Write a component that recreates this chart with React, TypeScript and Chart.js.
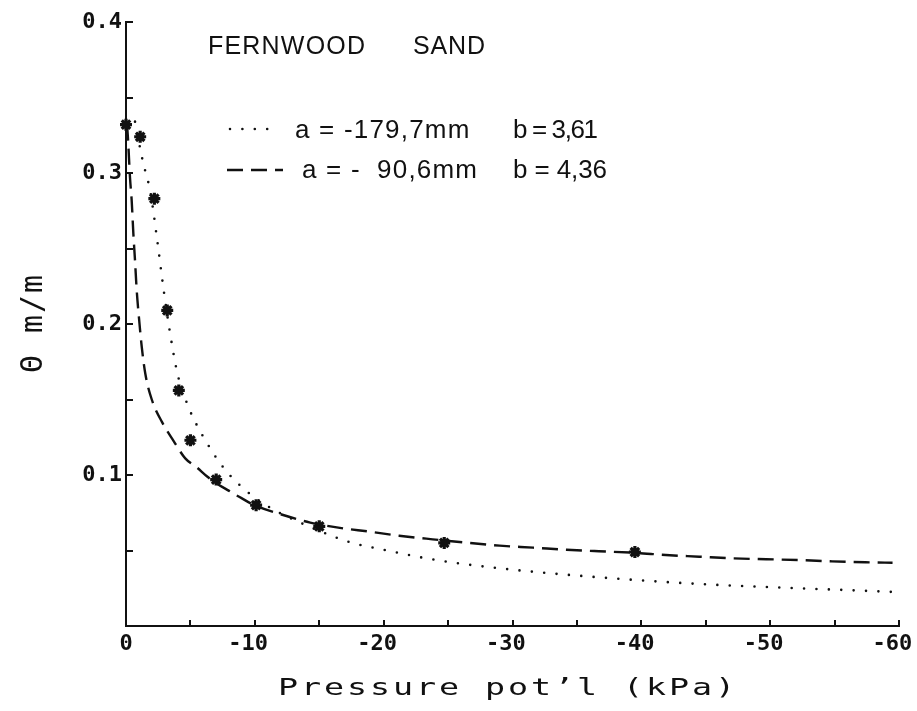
import React, { useEffect, useRef } from 'react';
import { Chart, registerables } from 'chart.js';

Chart.register(...registerables);

// Measured water content against pressure potential
const measuredPressure = [0, -1.1, -2.2, -3.2, -4.1, -5.0, -7.0, -10.1, -15.0, -24.7, -39.5];
const measuredTheta = [0.332, 0.324, 0.283, 0.209, 0.156, 0.123, 0.097, 0.080, 0.066, 0.055, 0.049];

// Fitted curve, a = -179,7 mm, b = 3,61 (dotted)
const fitAPressure = [-0.7, -1.3, -1.9, -2.4, -2.9, -3.4, -4.0, -4.8, -5.5, -6.3, -7.2, -8.1, -9.0, -10.0, -11.5, -13.0, -15.0, -17.5, -20.0, -23.0, -26.0, -30.0, -35.0, -40.0, -45.0, -50.0, -55.0, -59.4];
const fitATheta = [0.334, 0.308, 0.287, 0.257, 0.224, 0.195, 0.167, 0.146, 0.133, 0.121, 0.109, 0.0995, 0.092, 0.085, 0.0768, 0.0705, 0.063, 0.0552, 0.0505, 0.0453, 0.0413, 0.0373, 0.0334, 0.0302, 0.0276, 0.0257, 0.0241, 0.0226];

// Fitted curve, a = -90,6 mm, b = 4,36 (dashed)
const fitBPressure = [-0.08, -0.16, -0.31, -0.44, -0.57, -0.70, -0.83, -1.05, -1.22, -1.5, -2.0, -2.8, -3.7, -4.6, -5.5, -6.3, -7.0, -8.0, -9.0, -10.1, -12.2, -14.3, -16.6, -18.9, -21.2, -23.8, -26.4, -29.0, -31.6, -34.2, -36.7, -39.5, -41.9, -44.5, -47.1, -49.7, -52.3, -54.8, -57.4, -59.5];
const fitBTheta = [0.332, 0.322, 0.297, 0.282, 0.260, 0.242, 0.2225, 0.200, 0.185, 0.167, 0.150, 0.135, 0.1225, 0.111, 0.105, 0.099, 0.0945, 0.0895, 0.0845, 0.0795, 0.0735, 0.0685, 0.065, 0.0625, 0.0598, 0.0574, 0.0552, 0.0532, 0.0519, 0.0505, 0.0495, 0.0485, 0.047, 0.0459, 0.0448, 0.0442, 0.0437, 0.0428, 0.0422, 0.0419];

// Axis ticks
const xLabelValues = [0, -10, -20, -30, -40, -50, -60];
const yLabelValues = [0.1, 0.2, 0.3, 0.4];
const xTickMarks = [-5, -10, -15, -20, -25, -30, -35, -40, -45, -50, -55, -60];
const yTickMarks = [0.05, 0.1, 0.15, 0.2, 0.25, 0.3, 0.35, 0.4];

// Texts
const soilName = ['FERNWOOD', 'SAND'];
const fitALegend = ['a = -179,7mm', 'b = 3,61'];
const fitBLegend = ['a = -', '90,6mm', 'b = 4,36'];
const xTitle = 'Pressure pot\u2019l (kPa)';
const yTitle = '\u0398 m/m';

const INK = '#111';

function spreadText(ctx: CanvasRenderingContext2D, text: string, left: number, right: number, baseline: number) {
  ctx.letterSpacing = '0px';
  const w0 = ctx.measureText(text).width;
  const n = Array.from(text).length;
  const ls = n > 1 ? (right - left - w0) / (n - 1) : 0;
  ctx.letterSpacing = `${ls}px`;
  ctx.textAlign = 'left';
  ctx.fillText(text, left, baseline);
  ctx.letterSpacing = '0px';
}

function plainText(ctx: CanvasRenderingContext2D, text: string, x: number, baseline: number, align: CanvasTextAlign, spacing: number) {
  ctx.letterSpacing = `${spacing}px`;
  ctx.textAlign = align;
  // trailing letter spacing is not part of the visible ink
  ctx.fillText(text, align === 'right' ? x + spacing : x, baseline);
  ctx.letterSpacing = '0px';
}

const decorations = {
  id: 'decorations',
  afterDraw(chart: any) {
    const { ctx, chartArea, scales } = chart;
    const xs = scales.x;
    const ys = scales.y;
    ctx.save();

    // inward tick marks
    ctx.strokeStyle = INK;
    ctx.lineWidth = 2;
    ctx.setLineDash([]);
    ctx.beginPath();
    for (const v of yTickMarks) {
      const py = Math.round(ys.getPixelForValue(v));
      ctx.moveTo(chartArea.left, py);
      ctx.lineTo(chartArea.left + 7, py);
    }
    for (const v of xTickMarks) {
      const px = Math.round(xs.getPixelForValue(v));
      ctx.moveTo(px, chartArea.bottom);
      ctx.lineTo(px, chartArea.bottom - 6);
    }
    ctx.stroke();

    ctx.fillStyle = INK;
    ctx.textBaseline = 'alphabetic';

    // heading
    ctx.font = '25px "Liberation Sans", sans-serif';
    spreadText(ctx, soilName[0], 208, 365, 54);
    spreadText(ctx, soilName[1], 413, 485, 54);

    // legend rows
    const dsA = chart.data.datasets[0];
    const dsB = chart.data.datasets[1];
    ctx.lineWidth = dsA.borderWidth;
    ctx.lineCap = dsA.borderCapStyle;
    ctx.setLineDash(dsA.borderDash);
    ctx.beginPath();
    ctx.moveTo(230, 129);
    ctx.lineTo(272, 129);
    ctx.stroke();

    ctx.lineWidth = dsB.borderWidth;
    ctx.lineCap = dsB.borderCapStyle;
    ctx.setLineDash(dsB.borderDash);
    ctx.beginPath();
    ctx.moveTo(227, 170);
    ctx.lineTo(283, 170);
    ctx.stroke();
    ctx.setLineDash([]);

    ctx.font = '26px "Liberation Sans", sans-serif';
    plainText(ctx, fitALegend[0], 295, 138, 'left', 1.2);
    spreadText(ctx, fitALegend[1], 513, 598, 138);
    plainText(ctx, fitBLegend[0], 302, 178, 'left', 1.2);
    plainText(ctx, fitBLegend[1], 477, 178, 'right', 1.2);
    spreadText(ctx, fitBLegend[2], 513, 607, 178);

    // x axis title
    ctx.save();
    ctx.font = '23px "DejaVu Sans Mono", monospace';
    ctx.translate(278, 695);
    ctx.scale(1.45, 1);
    spreadText(ctx, xTitle, 0, (735 - 278) / 1.45, 0);
    ctx.restore();

    // y axis title
    ctx.save();
    ctx.font = '30px "DejaVu Sans Mono", monospace';
    ctx.translate(42, 373);
    ctx.rotate(-Math.PI / 2);
    spreadText(ctx, yTitle, 0, 98, 0);
    ctx.restore();

    ctx.restore();
  },
};

const tickFont = { family: '"DejaVu Sans Mono", monospace', size: 22, weight: 'bold' as const };

export default function App() {
  const canvasRef = useRef<HTMLCanvasElement | null>(null);

  useEffect(() => {
    const canvas = canvasRef.current;
    if (!canvas) return;
    const chart = new Chart(canvas, {
      type: 'line',
      data: {
        datasets: [
          {
            label: `${fitALegend[0]}  ${fitALegend[1]}`,
            data: fitAPressure.map((x, i) => ({ x, y: fitATheta[i] })),
            borderColor: INK,
            borderWidth: 2.6,
            borderDash: [0, 12.4],
            borderCapStyle: 'round',
            pointRadius: 0,
            fill: false,
            cubicInterpolationMode: 'monotone',
          },
          {
            label: `${fitBLegend[0]} ${fitBLegend[1]}  ${fitBLegend[2]}`,
            data: fitBPressure.map((x, i) => ({ x, y: fitBTheta[i] })),
            borderColor: INK,
            borderWidth: 2.4,
            borderDash: [16, 8],
            borderCapStyle: 'butt',
            pointRadius: 0,
            fill: false,
            cubicInterpolationMode: 'monotone',
          },
          {
            label: 'measured',
            data: measuredPressure.map((x, i) => ({ x, y: measuredTheta[i] })),
            showLine: false,
            pointStyle: 'star',
            pointRadius: 6,
            pointBorderWidth: 3.2,
            borderColor: INK,
            backgroundColor: INK,
            clip: false,
          } as any,
        ],
      },
      options: {
        animation: false,
        responsive: false,
        devicePixelRatio: 1,
        layout: { padding: { top: 22, right: 18, bottom: 0, left: 0 } },
        plugins: {
          legend: { display: false },
          tooltip: { enabled: false },
        },
        scales: {
          x: {
            type: 'linear',
            reverse: true,
            min: -60,
            max: 0,
            afterBuildTicks: (s: any) => {
              s.ticks = xLabelValues.map((value) => ({ value }));
            },
            afterFit: (s: any) => {
              s.height = 85;
              s.paddingLeft = 0;
              s.paddingRight = 0;
            },
            grid: { display: false, drawTicks: false },
            border: { display: true, color: INK, width: 2 },
            ticks: {
              color: INK,
              font: tickFont,
              padding: 5,
              maxRotation: 0,
              autoSkip: false,
              callback: (v: any) => (Number(v) === 0 ? '0' : `${v} `),
            },
          },
          y: {
            type: 'linear',
            min: 0,
            max: 0.4,
            afterBuildTicks: (s: any) => {
              s.ticks = yLabelValues.map((value) => ({ value }));
            },
            afterFit: (s: any) => {
              s.width = 126;
              s.paddingTop = 0;
              s.paddingBottom = 0;
            },
            grid: { display: false, drawTicks: false },
            border: { display: true, color: INK, width: 2 },
            ticks: {
              color: INK,
              font: tickFont,
              padding: 4,
              autoSkip: false,
              callback: (v: any) => Number(v).toFixed(1),
            },
          },
        },
      },
      plugins: [decorations],
    } as any);
    return () => chart.destroy();
  }, []);

  return (
    <div style={{ position: 'absolute', left: 0, top: 0, width: 917, height: 711, background: '#fff' }}>
      <canvas ref={canvasRef} width={917} height={711} style={{ display: 'block' }} />
    </div>
  );
}
